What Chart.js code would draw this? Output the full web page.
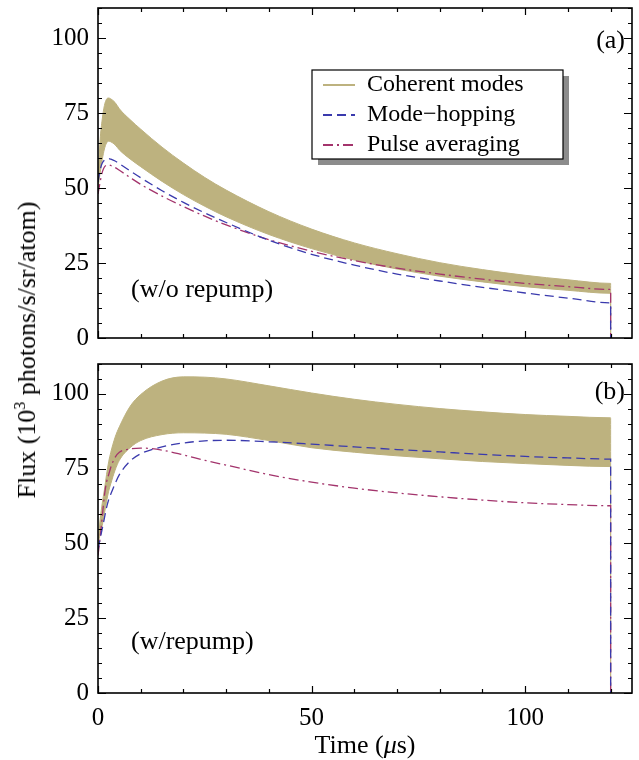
<!DOCTYPE html>
<html>
<head>
<meta charset="utf-8">
<script src="https://cdn.jsdelivr.net/npm/chart.js@4.4.1/dist/chart.umd.min.js"></script>
<style>
  body { margin: 0; background: #fff; font-family: "Liberation Serif", "Times New Roman", serif; color: #000; }
  #wrap { position: relative; width: 639px; height: 760px; overflow: hidden; }
  canvas { position: absolute; left: 0; }
  #chartA { top: 0; }
  #chartB { top: 350px; }
  .lbl { position: absolute; white-space: nowrap; font-size: 26px; line-height: 1; }
  #ytitle { left: 27px; top: 350px; transform: translate(-50%, -50%) rotate(-90deg); }
  #xtitle { left: 365px; top: 745px; transform: translate(-50%, -50%); }
  sup { font-size: 16px; vertical-align: 10px; line-height: 0; }
</style>
</head>
<body>
<div id="wrap">
  <canvas id="chartA" width="639" height="350"></canvas>
  <canvas id="chartB" width="639" height="410"></canvas>
  <div class="lbl" id="ytitle">Flux (10<sup>3</sup> photons/s/sr/atom)</div>
  <div class="lbl" id="xtitle">Time (<i>μ</i>s)</div>
</div>
<script>
// time in microseconds, the last point is the drop to zero at the end of the pulse
const times = [0, 0.5, 1, 1.5, 2, 2.5, 3, 4, 5, 7.5, 10, 15, 20, 25, 30, 40, 50, 60, 70, 80, 90, 100, 110, 120, 120];

// panel (a), w/o repump
const coherentUpperA = [52, 66, 73, 77.5, 79.6, 80, 79.7, 78.5, 76.4, 72.8, 69.6, 63.6, 58.3, 53.5, 49.3, 42.1, 36.3, 31.7, 28.1, 25.1, 22.8, 20.9, 19.4, 18.2, 0];
const coherentLowerA = [50, 55, 59.5, 63, 65, 65.6, 65.4, 64.4, 62.7, 59.7, 57.1, 52.2, 47.8, 43.9, 40.4, 34.5, 29.8, 26, 23, 20.6, 18.7, 17.1, 15.9, 14.9, 0];
const modeHopA = [52, 56, 58.3, 59.3, 59.7, 59.8, 59.6, 59, 58.1, 55.7, 53.4, 49.1, 45.2, 41.7, 38.5, 32.6, 27.9, 24.3, 21.3, 19, 16.9, 15, 13.3, 11.7, 0];
const pulseAvgA = [48, 52, 55.3, 57, 57.6, 57.7, 57.5, 56.8, 55.9, 53.5, 51.2, 47.3, 43.8, 40.6, 37.7, 32.8, 28.9, 25.8, 23.3, 21.3, 19.6, 18.2, 17.1, 16.2, 0];

// panel (b), w/ repump
const coherentUpperB = [50, 58, 63.5, 68, 73, 77.3, 80.5, 85.5, 89, 95.8, 99.8, 104.3, 105.7, 105.6, 105, 102.7, 100.3, 98.2, 96.5, 95.1, 94, 93.1, 92.5, 92, 0];
const coherentLowerB = [50, 53, 56, 60, 64, 67.5, 70, 74.5, 77.8, 82, 84.4, 86.4, 87, 86.9, 86.5, 84.4, 82, 80.5, 79.3, 78.3, 77.4, 76.7, 76.1, 75.7, 0];
const modeHopB = [48, 51.5, 55, 58.5, 62, 64.6, 66.5, 70, 73, 77.5, 80, 82.3, 83.6, 84.3, 84.5, 84, 83.2, 82.3, 81.4, 80.6, 79.8, 79.1, 78.6, 78.2, 0];
const pulseAvgB = [46, 52, 59, 66, 70.5, 73, 75.5, 78.8, 80.5, 81.6, 81.9, 81.2, 79.6, 77.8, 76.2, 73, 70.5, 68.5, 66.9, 65.6, 64.5, 63.6, 63, 62.6, 0];

const xLabelled = [0, 50, 100];
const yLabelled = [0, 25, 50, 75, 100];
const seriesNames = ['Coherent modes', 'Mode\u2212hopping', 'Pulse averaging'];

const TAN = '#bdb27f';
const BLUE = '#3a3aad';
const PLUM = '#a3346c';
const SERIF = '"Liberation Serif", "Times New Roman", serif';

Chart.defaults.font.family = SERIF;
Chart.defaults.font.size = 25;
Chart.defaults.color = '#000';

function pts(ys) {
  return times.map((t, i) => ({ x: t, y: ys[i] }));
}

function makeDatasets(upper, lower, hop, pulse) {
  return [
    { label: seriesNames[1], data: pts(hop), borderColor: BLUE, borderWidth: 1.3, borderDash: [9, 5], order: 1 },
    { label: seriesNames[2], data: pts(pulse), borderColor: PLUM, borderWidth: 1.3, borderDash: [10, 4, 2, 4], order: 2 },
    { label: seriesNames[0], data: pts(upper), borderColor: TAN, backgroundColor: TAN, borderWidth: 1, fill: '+1', order: 3 },
    { label: '', data: pts(lower), borderColor: TAN, borderWidth: 1, fill: false, order: 4 }
  ];
}

// box round the plot, with inward ticks on all four sides
const frameTicks = {
  id: 'frameTicks',
  afterDatasetsDraw(chart) {
    const { ctx, chartArea: a, scales: { x, y } } = chart;
    ctx.save();
    ctx.strokeStyle = '#000';
    ctx.lineWidth = 1.2;
    ctx.beginPath();
    x.ticks.forEach(t => {
      const px = Math.round(x.getPixelForValue(t.value)) + 0.5;
      const len = xLabelled.includes(t.value) ? 7 : 4;
      ctx.moveTo(px, a.bottom); ctx.lineTo(px, a.bottom - len);
      ctx.moveTo(px, a.top); ctx.lineTo(px, a.top + len);
    });
    y.ticks.forEach(t => {
      const py = Math.round(y.getPixelForValue(t.value)) + 0.5;
      const len = yLabelled.includes(t.value) ? 8 : 4;
      ctx.moveTo(a.left, py); ctx.lineTo(a.left + len, py);
      ctx.moveTo(a.right, py); ctx.lineTo(a.right - len, py);
    });
    ctx.stroke();
    ctx.lineWidth = 1.6;
    ctx.strokeRect(a.left, a.top, a.right - a.left, a.bottom - a.top);
    ctx.restore();
  }
};

const panelText = {
  id: 'panelText',
  afterDraw(chart, args, opts) {
    const ctx = chart.ctx;
    ctx.save();
    ctx.fillStyle = '#000';
    ctx.font = '26px ' + SERIF;
    ctx.textBaseline = 'middle';
    (opts.items || []).forEach(it => {
      ctx.textAlign = it.align;
      ctx.fillText(it.text, it.x, it.y);
    });
    ctx.restore();
  }
};

const boxLegend = {
  id: 'boxLegend',
  afterDraw(chart, args, opts) {
    if (!opts.show) return;
    const ctx = chart.ctx;
    const { left, top, width, height, shadow } = opts;
    ctx.save();
    ctx.fillStyle = '#8c8c8c';
    ctx.fillRect(left + shadow, top + shadow, width, height);
    ctx.fillStyle = '#fff';
    ctx.fillRect(left, top, width, height);
    ctx.strokeStyle = '#000';
    ctx.lineWidth = 1.2;
    ctx.strokeRect(left, top, width, height);
    ctx.font = '24px ' + SERIF;
    ctx.textBaseline = 'middle';
    ctx.textAlign = 'left';
    seriesNames.forEach((name, i) => {
      const ds = chart.data.datasets.find(d => d.label === name);
      const yy = top + opts.firstRow + i * opts.rowGap;
      ctx.strokeStyle = ds.borderColor;
      ctx.lineWidth = 2;
      ctx.setLineDash(ds.borderDash || []);
      ctx.beginPath();
      ctx.moveTo(left + 11, yy);
      ctx.lineTo(left + 43, yy);
      ctx.stroke();
      ctx.setLineDash([]);
      ctx.fillStyle = '#000';
      ctx.fillText(name, left + 55, yy);
    });
    ctx.restore();
  }
};

function makeScales(showX) {
  return {
    x: {
      type: 'linear', min: 0, max: 125,
      grid: { display: false, drawTicks: false },
      border: { display: false },
      ticks: {
        display: showX, stepSize: 10, includeBounds: false, autoSkip: false, maxRotation: 0, padding: 10,
        callback: v => xLabelled.includes(v) ? String(v) : ''
      },
      afterFit: s => { s.height = showX ? 67 : 12; s.paddingLeft = 0; s.paddingRight = 0; }
    },
    y: {
      type: 'linear', min: 0, max: 110,
      grid: { display: false, drawTicks: false },
      border: { display: false },
      ticks: {
        stepSize: 5, includeBounds: false, autoSkip: false, padding: 9,
        callback: v => yLabelled.includes(v) ? String(v) : ''
      },
      afterFit: s => { s.width = 98; s.paddingTop = 0; s.paddingBottom = 0; }
    }
  };
}

function makeChart(id, datasets, showX, padTop, texts, legend) {
  return new Chart(document.getElementById(id), {
    type: 'line',
    data: { datasets: datasets },
    options: {
      responsive: false,
      animation: false,
      events: [],
      layout: { padding: { top: padTop, right: 7, left: 0, bottom: 0 } },
      elements: { point: { radius: 0 }, line: { cubicInterpolationMode: 'monotone' } },
      scales: makeScales(showX),
      plugins: {
        legend: { display: false },
        tooltip: { enabled: false },
        panelText: { items: texts },
        boxLegend: legend
      }
    },
    plugins: [frameTicks, panelText, boxLegend]
  });
}

makeChart('chartA', makeDatasets(coherentUpperA, coherentLowerA, modeHopA, pulseAvgA), false, 8,
  [{ text: '(a)', x: 625, y: 41, align: 'right' }, { text: '(w/o repump)', x: 131, y: 290, align: 'left' }],
  { show: true, left: 312, top: 70, width: 251, height: 89, shadow: 6, firstRow: 15, rowGap: 30 });

makeChart('chartB', makeDatasets(coherentUpperB, coherentLowerB, modeHopB, pulseAvgB), true, 14,
  [{ text: '(b)', x: 625, y: 42, align: 'right' }, { text: '(w/repump)', x: 131, y: 292, align: 'left' }],
  { show: false });
</script>
</body>
</html>
